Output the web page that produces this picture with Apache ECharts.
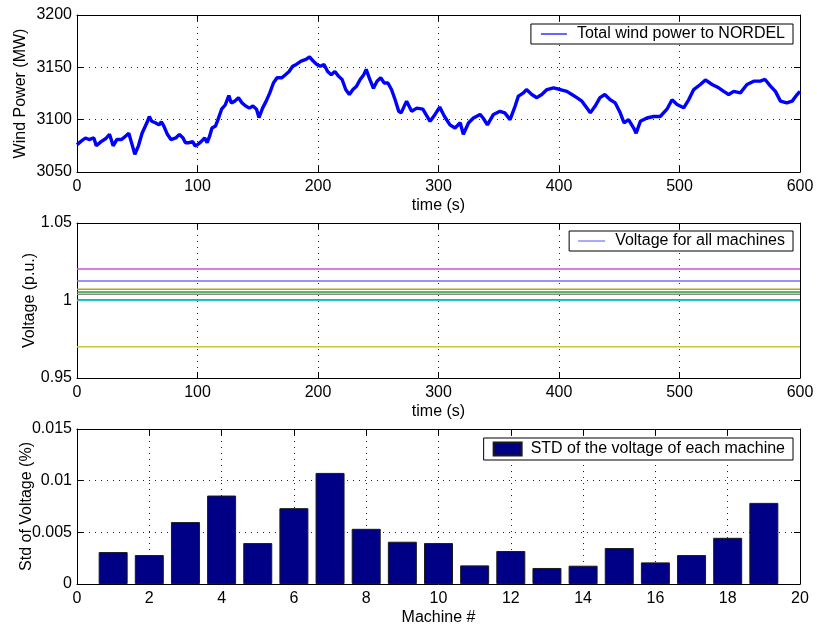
<!DOCTYPE html>
<html>
<head>
<meta charset="utf-8">
<script src="https://cdn.jsdelivr.net/npm/echarts@6/dist/echarts.min.js"></script>
<style>
  html, body { margin: 0; padding: 0; background: #fff; }
  #chart { width: 817px; height: 630px; }
</style>
</head>
<body>
<div id="chart"></div>
<script>
// Total wind power delivered to NORDEL over the 600 s run (MW)
const windTime = [0, 3, 7, 10, 14, 16, 20, 24, 27, 30, 33, 37, 40, 43, 45, 48, 51, 54, 58, 60,
  62, 65, 68, 70, 72, 75, 78, 82, 85, 88, 90, 93, 96, 98, 100, 103, 106, 108, 110, 112,
  115, 117, 120, 123, 126, 128, 131, 134, 137, 140, 143, 146, 149, 151, 154, 157, 160, 163, 166, 170,
  173, 176, 179, 182, 186, 190, 193, 196, 199, 202, 205, 208, 211, 214, 217, 220, 223, 226, 229, 232,
  235, 238, 240, 243, 246, 249, 252, 255, 258, 261, 264, 267, 269, 273.5, 277.7, 282, 287, 293, 297, 301,
  305, 309.5, 313.7, 318, 320.6, 325, 329, 334.5, 337, 340.6, 345.6, 351, 355, 359.4, 363.6, 366.3, 370.5, 373, 377.4, 381.6,
  385.7, 390, 395.4, 401, 406.5, 410.7, 414.8, 419, 423, 426, 430, 434, 438, 442.5, 446.7, 450.8, 454, 457.7, 462, 464,
  467.5, 473, 478.5, 484, 489.6, 493.8, 498, 503.5, 507.6, 511.8, 517.3, 521.5, 527, 532.5, 536.7, 540.8, 545, 550.5, 556, 561.6,
  567, 571, 575.5, 579.6, 583.8, 589, 593.5, 597.6, 600];
const windPower = [3076, 3079, 3082.5, 3081, 3082.5, 3075, 3079, 3082, 3086, 3075, 3081, 3081, 3084, 3087, 3079, 3067, 3075, 3087, 3097, 3103,
  3098.5, 3097, 3095, 3098, 3094, 3086, 3081, 3082.5, 3086, 3082.5, 3078, 3078, 3079, 3075, 3076, 3079, 3082.5, 3078, 3084, 3092,
  3094, 3100, 3110, 3114, 3123, 3116, 3117.7, 3121, 3116, 3113, 3111, 3113, 3110, 3102, 3111, 3117.7, 3125.6, 3135, 3140, 3140,
  3143, 3146, 3151, 3152.8, 3156, 3157.6, 3160, 3156, 3152.8, 3151, 3152.8, 3146, 3143, 3146, 3141.6, 3138.4, 3128.8, 3124, 3128.8, 3132,
  3138.4, 3143, 3148, 3138.4, 3130, 3136.8, 3140, 3135, 3135, 3128.8, 3119, 3108, 3106.5, 3117.7, 3108, 3111, 3110, 3098.4, 3104.8, 3112,
  3103, 3095, 3092, 3097, 3086, 3097, 3101.6, 3105, 3101.6, 3095, 3105, 3108, 3106.5, 3100, 3113, 3122.5, 3125.6, 3128.8, 3124, 3121,
  3124, 3128.8, 3130.4, 3128.8, 3127, 3124, 3121, 3117.7, 3111.3, 3106.5, 3113, 3121, 3124, 3119, 3116, 3106.5, 3097, 3100, 3092, 3087,
  3098.4, 3101.6, 3103, 3103, 3110, 3119, 3114.5, 3111.3, 3119, 3128.8, 3133.6, 3138, 3133.6, 3130.4, 3127, 3124, 3127, 3125.6, 3133.6, 3136.8,
  3136.8, 3138.4, 3132, 3127, 3117.7, 3116, 3117.7, 3124, 3127];

// Terminal voltage levels of the machines (p.u.), one distinct level per colour
const voltageLevels = [1.0126, 1.0203, 1.0072, 1.0055, 1.0040, 1.0004, 1.0000, 0.9702];
const voltageColors = ['#7070ff', '#d050d0', '#a8a828', '#2f9a2f', '#8c8c8c', '#206a78', '#30c4c4', '#c8c830'];
const voltageStart = 0;
const voltageEnd = 600;

// Standard deviation of each machine's voltage (%)
const machines = [1, 2, 3, 4, 5, 6, 7, 8, 9, 10, 11, 12, 13, 14, 15, 16, 17, 18, 19];
const voltageStd = [0.00309, 0.0028, 0.00599, 0.00856, 0.00396, 0.00734, 0.01075, 0.00534, 0.00409, 0.00396,
  0.0018, 0.00319, 0.00155, 0.00177, 0.00348, 0.00209, 0.0028, 0.00447, 0.00785];

const FONT = '"Liberation Sans", Arial, Helvetica, sans-serif';
const FS = 16;

const chart = echarts.init(document.getElementById('chart'), null, { renderer: 'canvas' });

const gridLine = { show: true, lineStyle: { color: '#222', width: 1, type: [1, 5] } };
const axisLine = { show: true, onZero: false, lineStyle: { color: '#000', width: 1 } };
const tickIn = { show: true, inside: true, length: 6, lineStyle: { color: '#000' } };
const plainNumber = (v) => String(+v.toPrecision(6));
const labelStyle = { color: '#000', fontFamily: FONT, fontSize: FS, formatter: plainNumber };

const grids = [
  { left: 77, right: 17, top: 15, height: 157, outerBoundsMode: 'none', containLabel: false },
  { left: 77, right: 17, top: 223, height: 155, outerBoundsMode: 'none', containLabel: false },
  { left: 77, right: 17, top: 429, height: 155, outerBoundsMode: 'none', containLabel: false }
];

const panels = [
  { x: [0, 600, 100], y: [3050, 3200, 50], xName: 'time (s)', yName: 'Wind Power (MW)', yGap: 48 },
  { x: [0, 600, 100], y: [0.95, 1.05, 0.05], xName: 'time (s)', yName: 'Voltage (p.u.)', yGap: 39 },
  { x: [0, 20, 2], y: [0, 0.015, 0.005], xName: 'Machine #', yName: 'Std of Voltage (%)', yGap: 42 }
];

const xAxes = [];
const yAxes = [];
panels.forEach((p, i) => {
  xAxes.push({
    type: 'value', gridIndex: i, position: 'bottom', min: p.x[0], max: p.x[1], interval: p.x[2],
    name: p.xName, nameLocation: 'middle', nameGap: 26, nameMoveOverlap: false,
    nameTextStyle: { color: '#000', fontFamily: FONT, fontSize: FS },
    axisLine: axisLine, axisTick: tickIn, splitLine: gridLine,
    axisLabel: Object.assign({ margin: 7 }, labelStyle)
  });
  xAxes.push({
    type: 'value', gridIndex: i, position: 'top', min: p.x[0], max: p.x[1], interval: p.x[2],
    axisLine: axisLine, axisTick: tickIn, splitLine: { show: false }, axisLabel: { show: false }
  });
  yAxes.push({
    type: 'value', gridIndex: i, position: 'left', min: p.y[0], max: p.y[1], interval: p.y[2],
    name: p.yName, nameLocation: 'middle', nameGap: p.yGap, nameRotate: 90, nameMoveOverlap: false,
    nameTextStyle: { color: '#000', fontFamily: FONT, fontSize: FS },
    axisLine: axisLine, axisTick: tickIn, splitLine: gridLine,
    axisLabel: Object.assign({ margin: 5 }, labelStyle)
  });
  yAxes.push({
    type: 'value', gridIndex: i, position: 'right', min: p.y[0], max: p.y[1], interval: p.y[2],
    axisLine: axisLine, axisTick: tickIn, splitLine: { show: false }, axisLabel: { show: false }
  });
});

const series = [];

series.push({
  name: 'Total wind power to NORDEL', type: 'line', xAxisIndex: 0, yAxisIndex: 0,
  data: windTime.map((t, k) => [t, windPower[k]]),
  symbol: 'none', lineStyle: { color: '#0000ff', width: 3.4 }, itemStyle: { color: '#0000ff' },
  animation: false, z: 3
});

voltageLevels.forEach((v, k) => {
  series.push({
    name: 'Voltage for all machines', type: 'line', xAxisIndex: 2, yAxisIndex: 2,
    data: [[voltageStart, v], [voltageEnd, v]],
    symbol: 'none', lineStyle: { color: voltageColors[k], width: 1.5 }, itemStyle: { color: voltageColors[k] },
    animation: false, z: 3
  });
});

series.push({
  name: 'STD of the voltage of each machine', type: 'bar', xAxisIndex: 4, yAxisIndex: 4,
  data: machines.map((m, k) => [m, voltageStd[k]]),
  barWidth: 29,
  itemStyle: { color: '#000086', borderColor: '#1a1a1a', borderWidth: 1 },
  animation: false, z: 3
});

const legendBase = {
  orient: 'horizontal', right: 24, backgroundColor: '#fff',
  borderColor: '#000', borderWidth: 1, borderRadius: 0,
  itemGap: 10, selectedMode: false
};
const legendText = { color: '#000', fontFamily: FONT, fontSize: FS, padding: [0, 0, 0, 5] };

const option = {
  animation: false,
  backgroundColor: '#fff',
  grid: grids,
  xAxis: xAxes,
  yAxis: yAxes,
  legend: [
    Object.assign({}, legendBase, { top: 24, padding: [2, 8, 2, 10], data: ['Total wind power to NORDEL'],
      textStyle: legendText, icon: 'rect', itemWidth: 26, itemHeight: 1.2, itemStyle: { borderWidth: 0 } }),
    Object.assign({}, legendBase, { top: 231, padding: [2, 8, 2, 9], data: ['Voltage for all machines'],
      textStyle: legendText, icon: 'rect', itemWidth: 27, itemHeight: 1.2, itemStyle: { borderWidth: 0 } }),
    Object.assign({}, legendBase, { top: 438, padding: [3, 8, 3, 9], data: ['STD of the voltage of each machine'],
      textStyle: Object.assign({}, legendText, { padding: [0, 0, 0, 4] }), icon: 'rect', itemWidth: 28, itemHeight: 13 })
  ],
  series: series
};

chart.setOption(option);
</script>
</body>
</html>
